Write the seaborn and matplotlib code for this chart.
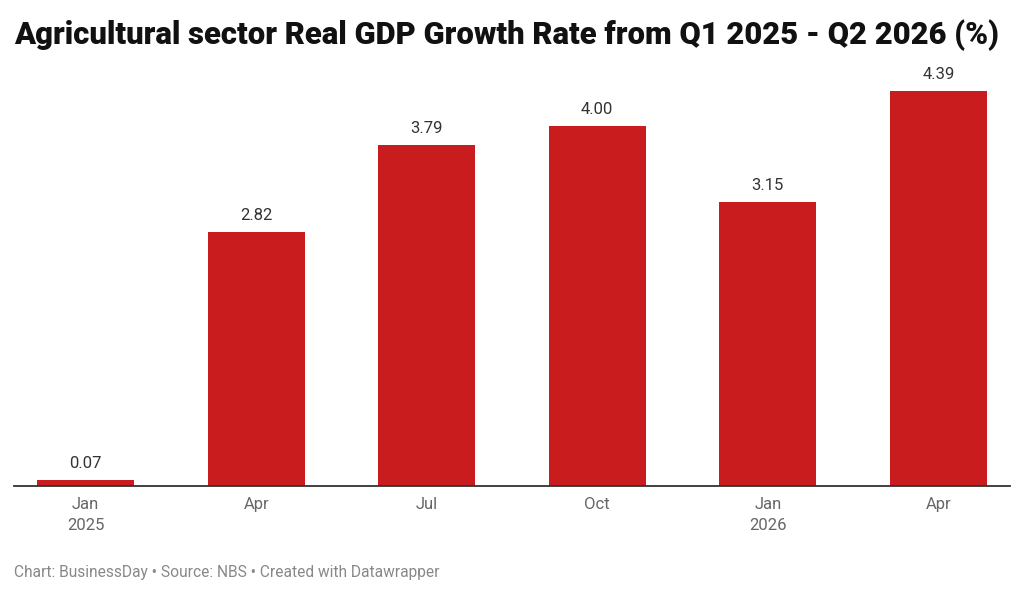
import matplotlib
matplotlib.use("Agg")
import matplotlib.pyplot as plt
import seaborn as sns
import pandas as pd

quarters = ["Q1 2025", "Q2 2025", "Q3 2025", "Q4 2025", "Q1 2026", "Q2 2026"]
tick_labels = ["Jan\n2025", "Apr", "Jul", "Oct", "Jan\n2026", "Apr"]
growth = [0.07, 2.82, 3.79, 4.00, 3.15, 4.39]

df = pd.DataFrame({"quarter": quarters, "growth": growth})

sns.set_theme(style="white")
plt.rcParams["font.family"] = ["Roboto", "DejaVu Sans"]

fig = plt.figure(figsize=(10.24, 5.97), dpi=100)
ax = fig.add_axes([14/1024, (597-486)/597, (1010-14)/1024, (486-70)/597])

sns.barplot(data=df, x="quarter", y="growth", color="#c81c1e", width=0.57,
            saturation=1, linewidth=0, ax=ax)

for i, v in enumerate(growth):
    ax.text(i, v + 0.1, f"{v:.2f}", ha="center", va="bottom",
            fontsize=12, color="#333333")

ax.set_xlim(-0.42, 5.42)
ax.set_ylim(0, 4.62)
ax.set_xticks(range(len(quarters)))
ax.set_xticklabels(tick_labels, fontsize=12, color="#666666", linespacing=1.5)
ax.tick_params(axis="x", length=0, pad=8)
ax.set_yticks([])
ax.set_xlabel("")
ax.set_ylabel("")
for s in ["top", "right", "left"]:
    ax.spines[s].set_visible(False)
ax.spines["bottom"].set_color("#333333")
ax.spines["bottom"].set_linewidth(1.3)

fig.text(14/1024, 1 - 35/597, "Agricultural sector Real GDP Growth Rate from Q1 2025 - Q2 2026 (%)",
         fontsize=22.3, fontweight="black", color="#111111", va="center", ha="left")
fig.text(14/1024, 1 - 573/597, "Chart: BusinessDay \u2022 Source: NBS \u2022 Created with Datawrapper",
         fontsize=11.2, color="#888888", va="center", ha="left")

fig.savefig("out.png", dpi=100)
